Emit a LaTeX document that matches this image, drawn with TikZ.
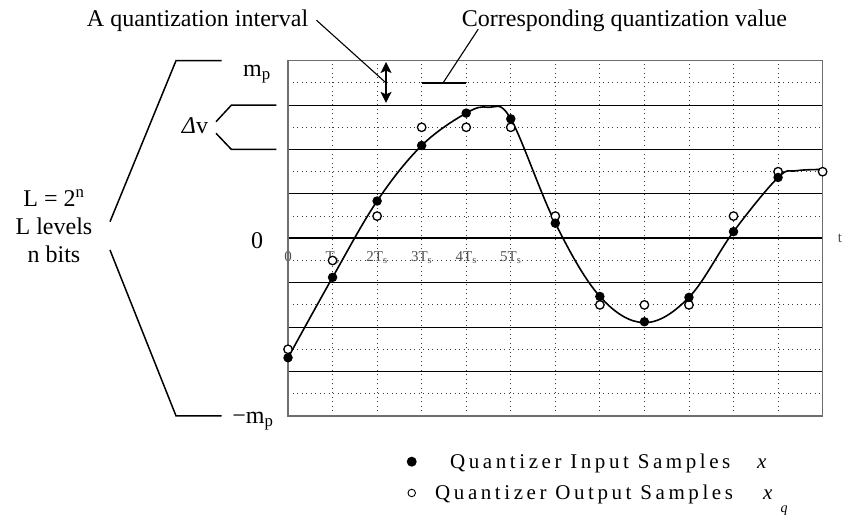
\documentclass[tikz,border=0pt]{standalone}
\usepackage{fontspec}
\setmainfont{Liberation Serif}
\newfontfamily\spacedfont[LetterSpace=17]{Liberation Serif}
\usepackage{tikz}
\usetikzlibrary{arrows.meta, calc}
\definecolor{framegray}{RGB}{110,110,110}
\definecolor{dotgray}{RGB}{60,60,60}
\definecolor{tickgray}{RGB}{80,80,80}

\begin{document}
\begin{tikzpicture}[x=44.55pt, y=44.4pt,
  lbl/.style={inner sep=0pt, anchor=base, font=\fontsize{24}{28}\selectfont},
  ticklbl/.style={inner sep=0pt, anchor=base, text=tickgray, font=\fontsize{15}{17}\selectfont},
  legend/.style={inner sep=0pt, anchor=base west, font=\fontsize{21}{24}\spacedfont},
  level/.style={line width=1.1pt},
  halflevel/.style={dotgray, line width=0.9pt, dash pattern=on 0.9pt off 3.6pt},
  leader/.style={line width=1.1pt},
  brace/.style={line width=1.5pt},
  insample/.style={circle, fill=black, inner sep=0pt, minimum size=9.5pt},
  outsample/.style={circle, draw=black, fill=white, line width=1.3pt, inner sep=0pt, minimum size=8.5pt}]

\useasboundingbox (-6.465,-6.3) rectangle (12.435,5.367);

% quantization grid
\foreach \v in {-3.5,-2.5,...,3.5}
  \draw[halflevel] (0,\v) -- (12,\v);
\foreach \u in {1,...,11}
  \draw[halflevel] (\u,-4) -- (\u,4);
\foreach \v in {-3,...,3}
  \draw[level] (0,\v) -- (12,\v);
\draw[line width=2pt] (0,0) -- (12,0);

% time axis labels
\foreach \tk/\tl in {0/0, 1/{T\textsubscript{s}}, 2/{2T\textsubscript{s}}, 3/{3T\textsubscript{s}}, 4/{4T\textsubscript{s}}, 5/{5T\textsubscript{s}}}
  \node[ticklbl] (tick\tk) at (\tk,-0.527) {\tl};
\node[ticklbl] (tlbl) at (12.39,-0.1) {t};

\draw[framegray, line width=1.6pt] (0,-4) rectangle (12,4);

% input signal
\draw[line width=1.6pt] plot[smooth, tension=0.6] coordinates {(0,-2.69) (1,-0.88) (2,0.84) (3,2.09) (4,2.82) (4.5,2.95) (5,2.69) (6,0.34) (7,-1.31) (8,-1.9) (9,-1.33) (10,0.15) (11,1.37) (11.4,1.52) (12,1.55)};

% samples
\foreach \k/\q in {0/-2.5, 1/-0.5, 2/0.5, 3/2.5, 4/2.5, 5/2.5, 6/0.5, 7/-1.5, 8/-1.5, 9/-1.5, 10/0.5, 11/1.5, 12/1.5}
  \node[outsample] (out\k) at (\k,\q) {};
\foreach \k/\s in {0/-2.69, 1/-0.88, 2/0.84, 3/2.09, 4/2.82, 5/2.69, 6/0.34, 7/-1.31, 8/-1.88, 9/-1.33, 10/0.15, 11/1.37}
  \node[insample] (in\k) at (\k,\s) {};

% quantization interval
\coordinate (ivtop) at (2.2,3.97);
\coordinate (ivbot) at (2.2,3.05);
\coordinate (ivmid) at (2.2,3.5);
\draw[line width=1.2pt, {Stealth[length=11pt,width=11pt,inset=2.5pt]}-{Stealth[length=11pt,width=11pt,inset=2.5pt]}] (ivtop) -- (ivbot);
\node[lbl] (intv) at (-2.03,4.76) {A quantization interval};
\draw[leader] ([xshift=8pt,yshift=1pt]intv.east) -- (ivmid);

% quantization value
\coordinate (qvl) at (3,3.5);
\coordinate (qvr) at (4,3.5);
\coordinate (qvmid) at (3.48,3.5);
\coordinate (cqvfoot) at (4.27,4.71);
\draw[line width=1.8pt] (qvl) -- (qvr);
\node[lbl] (cqv) at (7.553,4.76) {Corresponding quantization value};
\draw[leader] (cqvfoot) -- (qvmid);

% level labels
\node[lbl] (mp) at (-0.696,3.655) {m\textsubscript{p}};
\node[lbl] (mn) at (-0.786,-4.16) {−m\textsubscript{p}};
\node[lbl] (zero) at (-0.696,-0.22) {0};
\node[lbl] (dv) at (-2.088,2.37) {{\itshape Δ}v};
\draw[brace] (-0.26,3) -- (-1.27,3) -- (-1.616,2.626);
\draw[brace] (-1.616,2.365) -- (-1.27,2) -- (-0.26,2);
\draw[brace] (-1.488,4) -- (-2.514,4) -- (-3.996,0.374);
\draw[brace] (-3.996,-0.264) -- (-2.514,-4) -- (-1.488,-4);
\node[lbl, anchor=center, align=center] (lvl) at (-5.253,0.27) {L = 2\textsuperscript{n}\\L levels\\n bits};

% legend
\node[insample, minimum size=10pt] (keyin) at (2.777,-5.031) {};
\node[circle, draw, line width=0.9pt, inner sep=0pt, minimum size=7.5pt] (keyout) at (2.777,-5.736) {};
\node[legend] (inlbl) at (3.636,-5.174) {Quantizer Input Samples};
\node[legend] (outlbl) at (3.30,-5.894) {Quantizer Output Samples};
\node[legend, font=\fontsize{21}{24}\itshape] (inx) at (10.527,-5.174) {x};
\node[legend, font=\fontsize{21}{24}\itshape] (outx) at (10.662,-5.894) {x};
\node[legend, font=\fontsize{14}{16}\itshape] (outq) at (11.05,-6.17) {q};
\end{tikzpicture}
\end{document}
